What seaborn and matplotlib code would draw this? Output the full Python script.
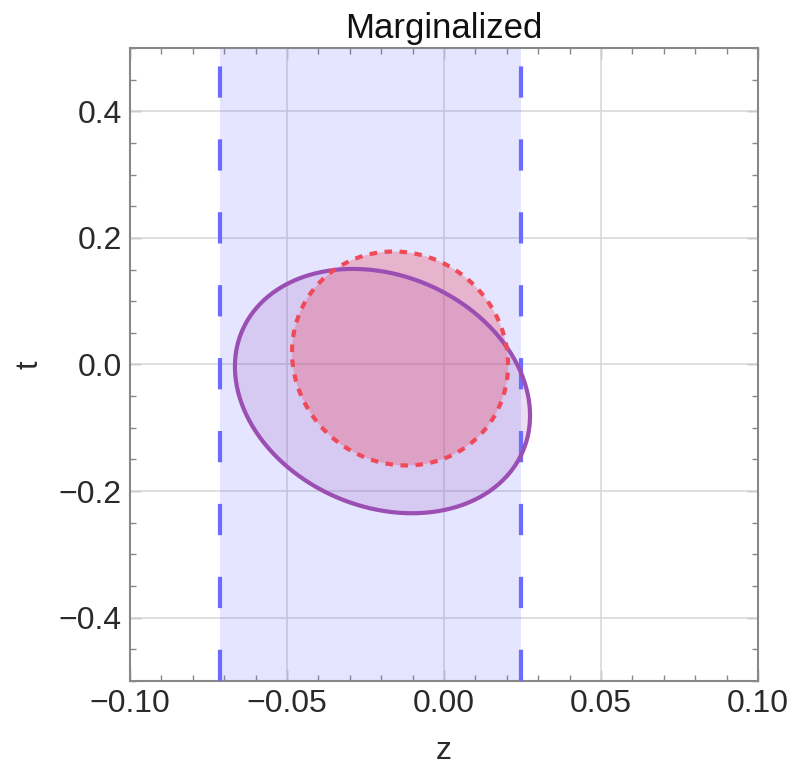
import numpy as np
import matplotlib
matplotlib.use('Agg')
import matplotlib.pyplot as plt
import seaborn as sns

# 边缘化后的 z 区间 (蓝色带)
z_band = [-0.0715, 0.0245]

# 椭圆参数: 中心, 半宽(z), 半高(t), 相关系数
purple_center = [-0.0196, -0.042]
purple_half = [0.047, 0.193]
purple_rho = -0.2

red_center = [-0.014, 0.0095]
red_half = [0.0344, 0.169]
red_rho = -0.06

x_ticks = [-0.10, -0.05, 0.00, 0.05, 0.10]
y_ticks = [-0.4, -0.2, 0.0, 0.2, 0.4]


def ellipse_points(center, half, rho, n=400):
    th = np.linspace(0, 2 * np.pi, n)
    x = center[0] + half[0] * np.cos(th)
    y = center[1] + half[1] * (rho * np.cos(th) + np.sqrt(1 - rho ** 2) * np.sin(th))
    return x, y


sns.set_theme(style='white')
plt.rcParams['font.family'] = ['Liberation Sans', 'DejaVu Sans']
plt.rcParams['axes.unicode_minus'] = True

fig = plt.figure(figsize=(7.89, 7.68), dpi=100)
ax = fig.add_axes([0.1648, 0.1133, 0.7959, 0.8242])

# 网格
for xv in x_ticks:
    ax.axvline(xv, color='#d9d9d9', lw=1.2, zorder=1)
for yv in y_ticks:
    ax.axhline(yv, color='#d9d9d9', lw=1.2, zorder=1)

# 蓝色区间带
ax.axvspan(z_band[0], z_band[1], color=(0.4, 0.4, 1.0), alpha=0.17, lw=0, zorder=2)
for zb in z_band:
    ax.axvline(zb, color='#6b6bff', lw=3, dashes=(7.5, 10), zorder=5)

# 紫色椭圆
px, py = ellipse_points(purple_center, purple_half, purple_rho)
ax.fill(px, py, color=(0.62, 0.35, 0.75), alpha=0.2, lw=0, zorder=3)
sns.lineplot(x=px, y=py, sort=False, estimator=None, ax=ax,
             color='#9c4fb3', lw=3, zorder=6)

# 红色椭圆 (虚线)
rx, ry = ellipse_points(red_center, red_half, red_rho)
ax.fill(rx, ry, color=(0.92, 0.35, 0.45), alpha=0.35, lw=0, zorder=4)
sns.lineplot(x=rx, y=ry, sort=False, estimator=None, ax=ax,
             color='#f04a58', lw=3, dashes=(1.8, 1.8), zorder=7)

ax.set_xlim(-0.1, 0.1)
ax.set_ylim(-0.5, 0.5)
ax.set_xticks(x_ticks)
ax.set_xticklabels([f'{v:.2f}'.replace('-', '\u2212') for v in x_ticks])
ax.set_yticks(y_ticks)
ax.set_yticklabels([f'{v:.1f}'.replace('-', '\u2212') for v in y_ticks])
ax.set_xticks(np.arange(-0.1, 0.1001, 0.01), minor=True)
ax.set_yticks(np.arange(-0.5, 0.5001, 0.05), minor=True)

ax.tick_params(which='both', direction='in', top=True, right=True,
               bottom=True, left=True, color='#888888', width=1)
ax.tick_params(which='major', length=8, labelsize=23, labelcolor='#2a2a2a', pad=6)
ax.tick_params(which='minor', length=4)
for s in ax.spines.values():
    s.set_color('#888888')
    s.set_linewidth(1.5)

ax.set_xlabel('z', fontsize=23, color='#2a2a2a', labelpad=12)
ax.set_ylabel('t', fontsize=22, color='#2a2a2a', labelpad=10)
ax.set_title('Marginalized', fontsize=25, color='#111111', pad=7)

fig.savefig('out.png', dpi=100)
